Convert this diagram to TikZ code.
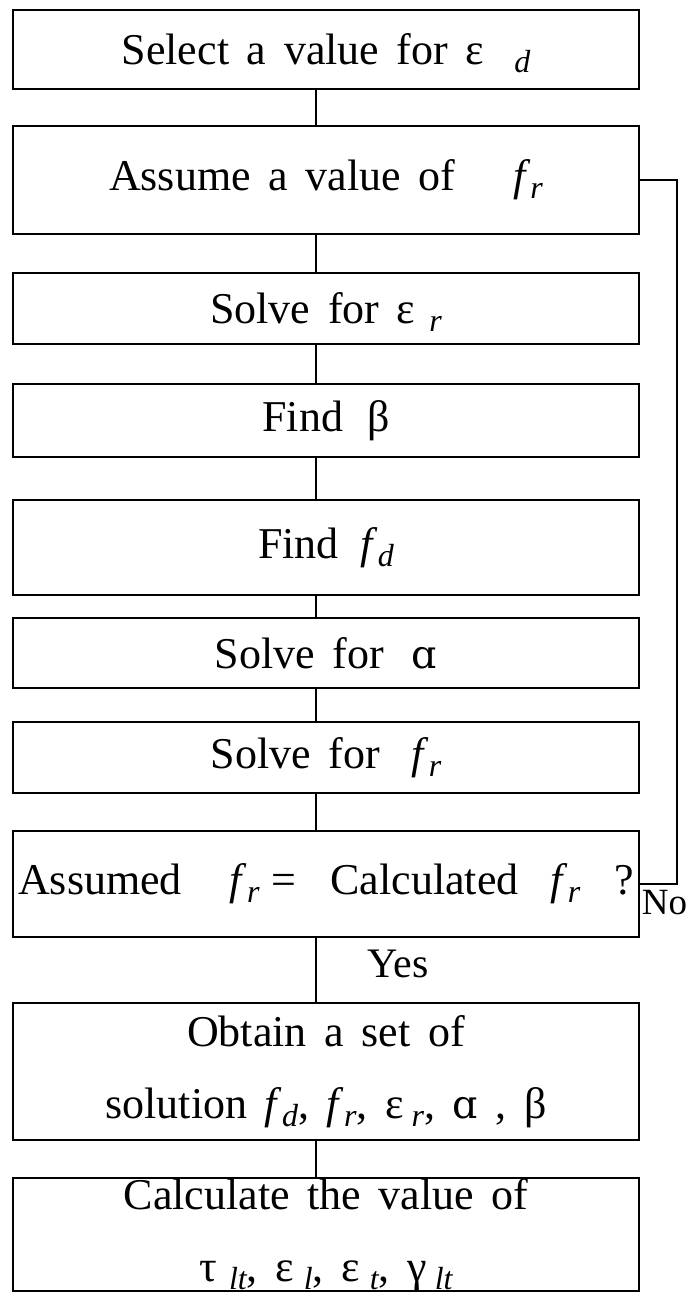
\documentclass[tikz,border=0pt]{standalone}
\usepackage{fontspec}
\setmainfont{Liberation Serif}[WordSpace=1.6]
\newfontfamily\dvs{DejaVu Serif}[Scale=0.9]
\newcommand{\lsub}[1]{\smash{\raisebox{-8pt}{\fontsize{32}{32}\selectfont\itshape #1}}}
\newcommand{\fsym}{\textit{f}}
\newcommand{\alp}{{\dvs ɑ}}
\begin{document}
\begin{tikzpicture}[x=1pt,y=-1pt,
  box/.style={draw, line width=2.4pt, minimum width=626pt, inner sep=0pt, align=center,
              font=\fontsize{44}{72}\selectfont},
  conn/.style={line width=2.2pt},
  lbl/.style={inner sep=0pt, font=\fontsize{42}{42}\selectfont}]
\useasboundingbox (0,0) rectangle (691,1294);
\coordinate (cx) at (316,0);
\coordinate (lp) at (677,0);

\node[box, minimum height=79pt]  (b1) at (326,49.5) {Select a value for ε\hspace{30pt}\lsub{d}};
\node[box, minimum height=108pt] (b2) at (326,180) {Assume a value of\hspace{58pt}\fsym\lsub{r}};
\node[box, minimum height=71pt]  (b3) at (326,308.5) {Solve for ε\hspace{14pt}\lsub{r}};
\node[box, minimum height=73pt]  (b4) at (326,420.5) {Find\hspace{24pt}β};
\node[box, minimum height=95pt]  (b5) at (326,547.5) {Find\hspace{22pt}\fsym\lsub{d}};
\node[box, minimum height=70pt]  (b6) at (326,653) {Solve for\hspace{28pt}\alp};
\node[box, minimum height=71pt]  (b7) at (326,757.5) {Solve for\hspace{32pt}\fsym\lsub{r}};
\node[box, minimum height=106pt] (b8) at (326,884) {Assumed\hspace{48pt}\fsym\lsub{r}\hspace{12pt}=\hspace{34pt}Calculated\hspace{32pt}\fsym\lsub{r}\hspace{34pt}?};
\node[box, minimum height=137pt] (b9) at (326,1071.5) {Obtain a set of\\solution \fsym\lsub{d}, \fsym\lsub{r}, ε\hspace{8pt}\lsub{r}, \alp\ , β};
\node[box, minimum height=113pt] (b10) at (326,1234.5) {Calculate the value of\\τ\hspace{12pt}\lsub{lt}, ε\hspace{10pt}\lsub{l}, ε\hspace{10pt}\lsub{t}, γ\hspace{8pt}\lsub{lt}};

\draw[conn] (b1.south -| cx) -- (b2.north -| cx);
\draw[conn] (b2.south -| cx) -- (b3.north -| cx);
\draw[conn] (b3.south -| cx) -- (b4.north -| cx);
\draw[conn] (b4.south -| cx) -- (b5.north -| cx);
\draw[conn] (b5.south -| cx) -- (b6.north -| cx);
\draw[conn] (b6.south -| cx) -- (b7.north -| cx);
\draw[conn] (b7.south -| cx) -- (b8.north -| cx);
\draw[conn] (b8.south -| cx) -- (b9.north -| cx);
\draw[conn] (b9.south -| cx) -- (b10.north -| cx);
\draw[conn] (b8.east) -- (b8.east -| lp) -- (b2.east -| lp) -- (b2.east);

\node[lbl] (yes) at (398,964) {Yes};
\node[lbl, anchor=north west, font=\fontsize{37}{37}\selectfont] (no) at ([xshift=1.5pt,yshift=-6pt]b8.east) {No};
\end{tikzpicture}
\end{document}
